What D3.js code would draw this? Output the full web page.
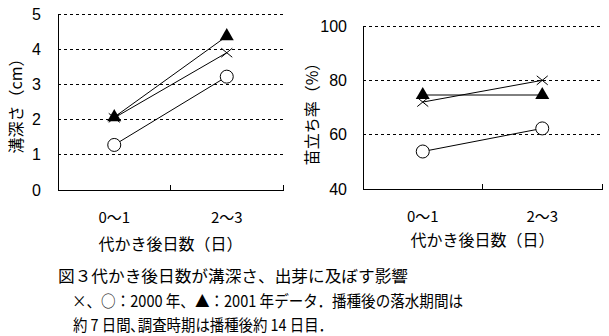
<!DOCTYPE html>
<html><head><meta charset="utf-8">
<script src="https://cdn.jsdelivr.net/npm/d3@7/dist/d3.min.js"></script>
<style>body{margin:0;background:#fff}svg{display:block}text{font-family:"Noto Sans CJK JP","Noto Sans",sans-serif;fill:#000}</style>
</head><body>
<script>
const categories = ["0～1", "2～3"];
const depthCross = [2.05, 3.9];
const depthCircle = [1.28, 3.22];
const depthTri = [2.07, 4.37];
const depthTicks = [0, 1, 2, 3, 4, 5];
const rateCross = [72, 80];
const rateCircle = [53.8, 62.3];
const rateTri = [74.6, 74.6];
const rateTicks = [40, 60, 80, 100];
const xTitle = "代かき後日数（日）";
const yTitleL = "溝深さ（cm）";
const yTitleR = "苗立ち率（%）";
const caption = ["図３代かき後日数が溝深さ、出芽に及ぼす影響",
  "×、○：2000 年、▲：2001 年データ．播種後の落水期間は",
  "約 7 日間､調査時期は播種後約 14 日目．"];

const svg = d3.select("body").append("svg").attr("width", 609).attr("height", 336);

function panel(o) {
  const g = svg.append("g");
  const x = d3.scaleBand().domain(categories).range([o.x0, o.x1]).padding(0);
  const y = d3.scaleLinear().domain(o.domain).range([o.y0, o.y1]);
  g.selectAll(".grid").data(o.ticks.filter(t => t !== o.domain[0])).enter().append("line")
    .attr("x1", o.x0).attr("x2", o.x1).attr("y1", d => y(d)).attr("y2", d => y(d))
    .attr("stroke", "#000").attr("stroke-width", 1).attr("stroke-dasharray", "3,3")
    .attr("shape-rendering", "crispEdges");
  const ya = d3.axisLeft(y).tickValues(o.ticks).tickFormat(d3.format("d")).tickSize(0).tickPadding(o.pad);
  const yg = g.append("g").attr("transform", `translate(${o.x0},0)`).call(ya);
  yg.select(".domain").attr("stroke", "#000").attr("shape-rendering", "crispEdges");
  yg.selectAll("text").style("font-size", "16px").style("font-family", "'Liberation Sans','DejaVu Sans',sans-serif").attr("fill", "#000");
  const xa = d3.axisBottom(x).tickSize(0).tickPadding(22);
  const xg = g.append("g").attr("transform", `translate(0,${o.y0})`).call(xa);
  xg.select(".domain").attr("stroke", "#000").attr("shape-rendering", "crispEdges");
  xg.selectAll("text").style("font-size", "15px").attr("fill", "#000");
  const bounds = [x(categories[1]), o.x1];
  g.selectAll(".bt").data(bounds).enter().append("line")
    .attr("x1", d => d).attr("x2", d => d).attr("y1", o.y0).attr("y2", o.y0 - 5)
    .attr("stroke", "#000").attr("shape-rendering", "crispEdges");
  const cx = c => x(c) + x.bandwidth() / 2;
  const series = [
    {v: o.circle, m: "circle"},
    {v: o.cross, m: "cross"},
    {v: o.tri, m: "tri"}
  ];
  const line = d3.line().x((d, i) => cx(categories[i])).y(d => y(d));
  series.forEach(s => {
    g.append("path").attr("d", line(s.v)).attr("fill", "none").attr("stroke", "#000").attr("stroke-width", 1);
  });
  series.forEach(s => {
    s.v.forEach((v, i) => {
      const px = cx(categories[i]), py = y(v);
      if (s.m === "circle") {
        g.append("circle").attr("cx", px).attr("cy", py).attr("r", 6.5).attr("fill", "#fff").attr("stroke", "#000");
      } else if (s.m === "cross") {
        g.append("path").attr("d", `M${px-5.5},${py-4.5}L${px+5.5},${py+4.5}M${px-5.5},${py+4.5}L${px+5.5},${py-4.5}`)
          .attr("stroke", "#000").attr("fill", "none");
      } else {
        g.append("path").attr("d", d3.symbol().type(d3.symbolTriangle).size(85)()).attr("transform", `translate(${px},${py})`)
          .attr("fill", "#000");
      }
    });
  });
  g.append("text").attr("x", (o.x0 + o.x1) / 2).attr("y", o.xty).attr("text-anchor", "middle")
    .style("font-size", "16px").text(xTitle);
  g.append("text").attr("transform", `translate(${o.ytx},${o.yty}) rotate(-90)`).attr("text-anchor", "middle")
    .attr("dominant-baseline", "central").style("font-size", "16px").text(o.ytitle);
}

panel({x0: 58, x1: 283, y0: 190, y1: 14, domain: [0, 5], ticks: depthTicks, pad: 17,
  cross: depthCross, circle: depthCircle, tri: depthTri, xty: 250, ytx: 15, yty: 102, ytitle: yTitleL});
panel({x0: 363, x1: 602, y0: 189, y1: 26, domain: [40, 100], ticks: rateTicks, pad: 16,
  cross: rateCross, circle: rateCircle, tri: rateTri, xty: 246, ytx: 311, yty: 110, ytitle: yTitleR});

const capPos = [[58, 282, 350], [72, 307, 391], [73, 331, 260]];
caption.forEach((t, i) => {
  svg.append("text").attr("x", capPos[i][0]).attr("y", capPos[i][1])
    .attr("textLength", capPos[i][2]).attr("lengthAdjust", "spacingAndGlyphs")
    .style("font-size", "16px").text(t);
});
</script>
</body></html>
